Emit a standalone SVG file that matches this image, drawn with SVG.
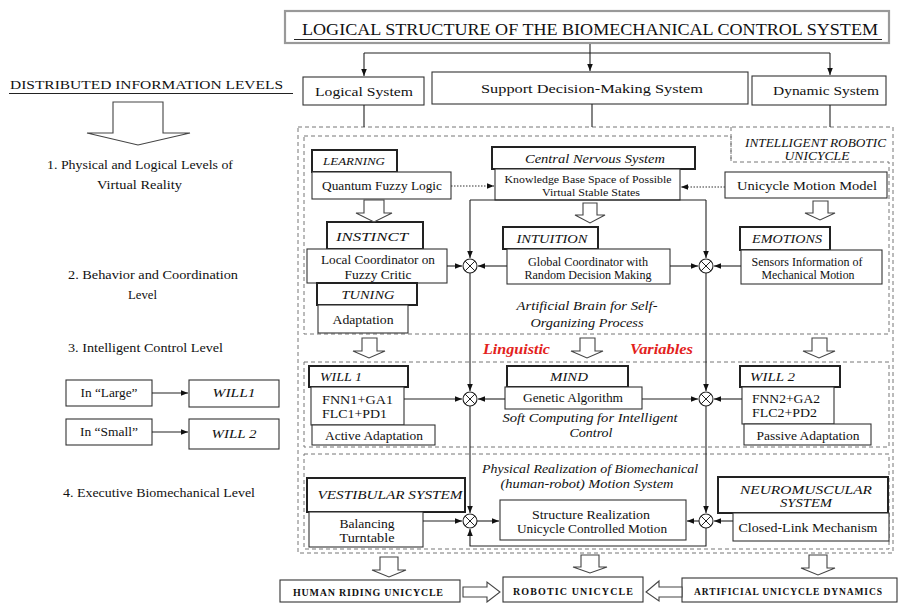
<svg xmlns="http://www.w3.org/2000/svg" width="898" height="603" viewBox="0 0 898 603">
  <defs>
    <style>
      text { font-family: "Liberation Serif", "Times New Roman", serif; fill: #111; }
      .c { text-anchor: middle; }
      .it { font-style: italic; }
      .red { fill: #e3221c; font-style: italic; font-weight: bold; }
      .caps { font-weight: bold; }
      .box { fill: #fff; stroke: #333; stroke-width: 1.1; }
      .lab { fill: #fff; stroke: #222; stroke-width: 2; }
      .dash { fill: none; stroke: #777; stroke-width: 1; stroke-dasharray: 4 3; }
      .ln { fill: none; stroke: #222; stroke-width: 1.1; }
      .dot { fill: none; stroke: #333; stroke-width: 1.1; stroke-dasharray: 1.5 1.5; }
      .blk { fill: #fff; stroke: #444; stroke-width: 1.1; }
      .sum circle { fill: #fff; stroke: #222; stroke-width: 1.1; }
      .sum path { stroke: #222; stroke-width: 1; }
    </style>
    <marker id="ah" viewBox="0 0 10 10" refX="10" refY="5" markerWidth="7" markerHeight="7" orient="auto" markerUnits="userSpaceOnUse">
      <path d="M0,1 L10,5 L0,9 z" fill="#111"/>
    </marker>
    <g id="sumj" class="sum">
      <circle r="7"/>
      <path d="M-4.9,-4.9 L4.9,4.9 M-4.9,4.9 L4.9,-4.9"/>
    </g>
  </defs>

  <rect width="898" height="603" fill="#fff"/>

  <!-- dashed frames of the robotic unicycle and its three layers -->
  <g id="frames">
    <rect class="dash" x="298" y="127" width="595" height="426"/>
    <path class="dash" d="M304,136 H731 V162 H889 V334 H304 Z"/>
    <path class="dash" d="M731,127 V162"/>
    <rect class="dash" x="304" y="362" width="585" height="85"/>
    <rect class="dash" x="304" y="454" width="585" height="95"/>
  </g>

  <!-- title -->
  <g id="title">
    <rect x="285" y="11" width="604" height="32" fill="#fff" stroke="#999" stroke-width="2.2"/>
    <text class="c" x="590" y="35" font-size="17" textLength="576" lengthAdjust="spacingAndGlyphs">LOGICAL STRUCTURE OF THE BIOMECHANICAL CONTROL SYSTEM</text>
    <path class="ln" d="M294,39.5 H882"/>
  </g>

  <g id="logical-system">
    <rect class="box" x="303" y="77" width="121" height="28"/>
    <text class="c" x="364" y="96" font-size="13" textLength="98" lengthAdjust="spacingAndGlyphs">Logical System</text>
  </g>
  <g id="support-system">
    <rect class="box" x="432" y="72" width="316" height="32"/>
    <text class="c" x="592" y="93" font-size="13" textLength="222" lengthAdjust="spacingAndGlyphs">Support Decision-Making System</text>
  </g>
  <g id="dynamic-system">
    <rect class="box" x="752" y="76" width="134" height="29"/>
    <text class="c" x="826" y="95" font-size="13" textLength="106" lengthAdjust="spacingAndGlyphs">Dynamic System</text>
  </g>

  <!-- distributed information levels -->
  <g id="levels">
    <text x="10" y="89" font-size="13" textLength="273" lengthAdjust="spacingAndGlyphs">DISTRIBUTED INFORMATION LEVELS</text>
    <path class="ln" d="M9,93.5 H293"/>
    <path class="blk" d="M113,102 H163 V133 H190 L138,145 L87,133 H113 Z"/>
    <text x="47" y="169" font-size="13" textLength="186" lengthAdjust="spacingAndGlyphs">1. Physical and Logical Levels of</text>
    <text x="97" y="189" font-size="13" textLength="85" lengthAdjust="spacingAndGlyphs">Virtual Reality</text>
    <text x="68" y="279" font-size="13" textLength="170" lengthAdjust="spacingAndGlyphs">2. Behavior and Coordination</text>
    <text x="128" y="299" font-size="13" textLength="29" lengthAdjust="spacingAndGlyphs">Level</text>
    <text x="68" y="352" font-size="13" textLength="155" lengthAdjust="spacingAndGlyphs">3. Intelligent Control Level</text>
    <text x="63" y="497" font-size="13" textLength="192" lengthAdjust="spacingAndGlyphs">4. Executive Biomechanical Level</text>
  </g>
  <g id="in-large">
    <rect class="box" x="66" y="380" width="86" height="26"/>
    <text class="c" x="109" y="397" font-size="12" textLength="57" lengthAdjust="spacingAndGlyphs">In “Large”</text>
  </g>
  <g id="will1-left">
    <rect class="box" x="189" y="380" width="90" height="27"/>
    <text class="c it" x="234" y="397" font-size="12" textLength="43" lengthAdjust="spacingAndGlyphs">WILL1</text>
  </g>
  <g id="in-small">
    <rect class="box" x="66" y="419" width="86" height="26"/>
    <text class="c" x="109" y="436" font-size="12" textLength="58" lengthAdjust="spacingAndGlyphs">In “Small”</text>
  </g>
  <g id="will2-left">
    <rect class="box" x="189" y="419" width="90" height="30"/>
    <text class="c it" x="234" y="438" font-size="12" textLength="45" lengthAdjust="spacingAndGlyphs">WILL 2</text>
  </g>

  <text x="745" y="147" class="it" font-size="12" textLength="141" lengthAdjust="spacingAndGlyphs">INTELLIGENT ROBOTIC</text>
  <text x="817" y="160" class="c it" font-size="12" textLength="65" lengthAdjust="spacingAndGlyphs">UNICYCLE</text>

  <!-- layer 1: artificial brain -->
  <g id="learning">
    <rect class="lab" x="312" y="150" width="85" height="22"/>
    <text class="c it" x="354" y="165" font-size="11" textLength="62" lengthAdjust="spacingAndGlyphs">LEARNING</text>
  </g>
  <g id="quantum-fuzzy-logic">
    <rect class="box" x="312" y="172" width="139" height="27"/>
    <text class="c" x="382" y="190" font-size="13" textLength="120" lengthAdjust="spacingAndGlyphs">Quantum Fuzzy Logic</text>
  </g>
  <g id="instinct">
    <rect class="lab" x="327" y="222" width="96" height="27"/>
    <text class="c it" x="372" y="241" font-size="13" textLength="72" lengthAdjust="spacingAndGlyphs">INSTINCT</text>
  </g>
  <g id="local-coordinator">
    <rect class="box" x="307" y="249" width="140" height="34"/>
    <text class="c" x="378" y="264" font-size="12.5" textLength="114" lengthAdjust="spacingAndGlyphs">Local Coordinator on</text>
    <text class="c" x="378" y="279" font-size="12.5" textLength="67" lengthAdjust="spacingAndGlyphs">Fuzzy Critic</text>
  </g>
  <g id="tuning">
    <rect class="lab" x="317" y="283" width="100" height="22"/>
    <text class="c it" x="368" y="299" font-size="12.5" textLength="53" lengthAdjust="spacingAndGlyphs">TUNING</text>
  </g>
  <g id="adaptation">
    <rect class="box" x="318" y="305" width="90" height="28"/>
    <text class="c" x="363" y="324" font-size="12.5" textLength="61" lengthAdjust="spacingAndGlyphs">Adaptation</text>
  </g>
  <g id="central-nervous-system">
    <rect class="lab" x="492" y="147" width="203" height="22"/>
    <text class="c it" x="595" y="163" font-size="12.5" textLength="140" lengthAdjust="spacingAndGlyphs">Central Nervous System</text>
  </g>
  <g id="knowledge-base">
    <rect class="box" x="495" y="169" width="185" height="31"/>
    <text class="c" x="588" y="183" font-size="11" textLength="167" lengthAdjust="spacingAndGlyphs">Knowledge Base Space of Possible</text>
    <text class="c" x="591" y="196" font-size="11" textLength="98" lengthAdjust="spacingAndGlyphs">Virtual Stable States</text>
  </g>
  <g id="intuition">
    <rect class="lab" x="503" y="227" width="95" height="22"/>
    <text class="c it" x="552" y="243" font-size="13" textLength="71" lengthAdjust="spacingAndGlyphs">INTUITION</text>
  </g>
  <g id="global-coordinator">
    <rect class="box" x="507" y="249" width="163" height="35"/>
    <text class="c" x="588" y="266" font-size="11.5" textLength="120" lengthAdjust="spacingAndGlyphs">Global Coordinator with</text>
    <text class="c" x="588" y="279" font-size="11.5" textLength="127" lengthAdjust="spacingAndGlyphs">Random Decision Making</text>
  </g>
  <text class="c it" x="587" y="310" font-size="13" textLength="141" lengthAdjust="spacingAndGlyphs">Artificial Brain for Self-</text>
  <text class="c it" x="587" y="327" font-size="13" textLength="113" lengthAdjust="spacingAndGlyphs">Organizing Process</text>
  <g id="unicycle-motion-model">
    <rect class="box" x="725" y="172" width="162" height="26"/>
    <text class="c" x="807" y="190" font-size="13.5" textLength="140" lengthAdjust="spacingAndGlyphs">Unicycle Motion Model</text>
  </g>
  <g id="emotions">
    <rect class="lab" x="740" y="227" width="90" height="23"/>
    <text class="c it" x="787" y="243" font-size="13" textLength="70" lengthAdjust="spacingAndGlyphs">EMOTIONS</text>
  </g>
  <g id="sensors-information">
    <rect class="box" x="741" y="250" width="141" height="34"/>
    <text class="c" x="807" y="266" font-size="11.5" textLength="111" lengthAdjust="spacingAndGlyphs">Sensors Information of</text>
    <text class="c" x="808" y="279" font-size="11.5" textLength="93" lengthAdjust="spacingAndGlyphs">Mechanical Motion</text>
  </g>

  <text class="red" x="483" y="354" font-size="15" textLength="67" lengthAdjust="spacingAndGlyphs">Linguistic</text>
  <text class="red" x="630" y="354" font-size="15" textLength="63" lengthAdjust="spacingAndGlyphs">Variables</text>

  <!-- layer 2: soft computing -->
  <g id="will1">
    <rect class="lab" x="309" y="366" width="99" height="21"/>
    <text class="it" x="320" y="381" font-size="12" textLength="42" lengthAdjust="spacingAndGlyphs">WILL 1</text>
  </g>
  <g id="fnn1">
    <rect class="box" x="311" y="387" width="93" height="38"/>
    <text x="322" y="404" font-size="12.5" textLength="71" lengthAdjust="spacingAndGlyphs">FNN1+GA1</text>
    <text x="322" y="418" font-size="12.5" textLength="65" lengthAdjust="spacingAndGlyphs">FLC1+PD1</text>
  </g>
  <g id="active-adaptation">
    <rect class="box" x="312" y="425" width="123" height="20"/>
    <text class="c" x="374" y="440" font-size="11.5" textLength="98" lengthAdjust="spacingAndGlyphs">Active Adaptation</text>
  </g>
  <g id="mind">
    <rect class="lab" x="507" y="366" width="121" height="21"/>
    <text class="c it" x="569" y="381" font-size="12" textLength="38" lengthAdjust="spacingAndGlyphs">MIND</text>
  </g>
  <g id="genetic-algorithm">
    <rect class="box" x="505" y="387" width="137" height="22"/>
    <text class="c" x="573" y="402" font-size="11.5" textLength="100" lengthAdjust="spacingAndGlyphs">Genetic Algorithm</text>
  </g>
  <text class="c it" x="590" y="422" font-size="12.5" textLength="175" lengthAdjust="spacingAndGlyphs">Soft Computing for Intelligent</text>
  <text class="c it" x="591" y="437" font-size="12.5" textLength="43" lengthAdjust="spacingAndGlyphs">Control</text>
  <g id="will2">
    <rect class="lab" x="740" y="366" width="100" height="21"/>
    <text class="it" x="750" y="381" font-size="12" textLength="45" lengthAdjust="spacingAndGlyphs">WILL 2</text>
  </g>
  <g id="fnn2">
    <rect class="box" x="742" y="387" width="92" height="37"/>
    <text x="752" y="403" font-size="12.5" textLength="68" lengthAdjust="spacingAndGlyphs">FNN2+GA2</text>
    <text x="752" y="417" font-size="12.5" textLength="65" lengthAdjust="spacingAndGlyphs">FLC2+PD2</text>
  </g>
  <g id="passive-adaptation">
    <rect class="box" x="744" y="424" width="127" height="21"/>
    <text class="c" x="808" y="440" font-size="11.5" textLength="103" lengthAdjust="spacingAndGlyphs">Passive Adaptation</text>
  </g>

  <!-- layer 3: physical realization -->
  <text class="c it" x="590" y="473" font-size="12.5" textLength="216" lengthAdjust="spacingAndGlyphs">Physical Realization of Biomechanical</text>
  <text class="c it" x="587" y="488" font-size="12.5" textLength="173" lengthAdjust="spacingAndGlyphs">(human-robot) Motion System</text>
  <g id="vestibular-system">
    <rect class="lab" x="307" y="478" width="158" height="34"/>
    <text class="c it" x="390" y="499" font-size="12.5" textLength="145" lengthAdjust="spacingAndGlyphs">VESTIBULAR SYSTEM</text>
  </g>
  <g id="balancing-turntable">
    <rect class="box" x="309" y="512" width="114" height="35"/>
    <text class="c" x="367" y="528" font-size="12" textLength="55" lengthAdjust="spacingAndGlyphs">Balancing</text>
    <text class="c" x="367" y="542" font-size="12" textLength="55" lengthAdjust="spacingAndGlyphs">Turntable</text>
  </g>
  <g id="structure-realization">
    <rect class="box" x="500" y="500" width="186" height="40"/>
    <text class="c" x="591" y="519" font-size="12" textLength="118" lengthAdjust="spacingAndGlyphs">Structure Realization</text>
    <text class="c" x="592" y="533" font-size="12" textLength="150" lengthAdjust="spacingAndGlyphs">Unicycle Controlled Motion</text>
  </g>
  <g id="neuromuscular-system">
    <rect class="lab" x="718" y="477" width="170" height="36"/>
    <text class="c it" x="806" y="494" font-size="12.5" textLength="132" lengthAdjust="spacingAndGlyphs">NEUROMUSCULAR</text>
    <text class="c it" x="806" y="507" font-size="12.5" textLength="52" lengthAdjust="spacingAndGlyphs">SYSTEM</text>
  </g>
  <g id="closed-link-mechanism">
    <rect class="box" x="733" y="513" width="156" height="28"/>
    <text class="c" x="808" y="532" font-size="12" textLength="139" lengthAdjust="spacingAndGlyphs">Closed-Link Mechanism</text>
  </g>

  <!-- outputs -->
  <g id="human-riding-unicycle">
    <rect class="box" x="280" y="580" width="180" height="22"/>
    <text class="c caps" x="368" y="596" font-size="10" textLength="150" lengthAdjust="spacing">HUMAN RIDING UNICYCLE</text>
  </g>
  <g id="robotic-unicycle">
    <rect class="box" x="503" y="577" width="140" height="25"/>
    <text class="c caps" x="573" y="595" font-size="10" textLength="120" lengthAdjust="spacing">ROBOTIC UNICYCLE</text>
  </g>
  <g id="artificial-unicycle-dynamics">
    <rect class="box" x="682" y="578" width="215" height="24"/>
    <text class="c caps" x="788" y="595" font-size="9.5" textLength="188" lengthAdjust="spacing">ARTIFICIAL UNICYCLE DYNAMICS</text>
  </g>

  <!-- connectors -->
  <g id="connectors">
    <path class="ln" d="M590,44 V71" marker-end="url(#ah)"/>
    <path class="ln" d="M364,53 H830"/>
    <path class="ln" d="M364,53 V76" marker-end="url(#ah)"/>
    <path class="ln" d="M830,53 V75" marker-end="url(#ah)"/>
    <path class="ln" d="M364,105 V127 M592,104 V127 M830,105 V127"/>

    <path class="ln" d="M152,393 H188" marker-end="url(#ah)"/>
    <path class="ln" d="M152,432 H188" marker-end="url(#ah)"/>

    <path class="dot" d="M451,186 H494" marker-end="url(#ah)"/>
    <path class="dot" d="M725,187 H681" marker-end="url(#ah)"/>

    <!-- coordination buses -->
    <path class="ln" d="M470,200 H706"/>
    <path class="ln" d="M470,200 V258" marker-end="url(#ah)"/>
    <path class="ln" d="M470,273 V391" marker-end="url(#ah)"/>
    <path class="ln" d="M470,406 V513" marker-end="url(#ah)"/>
    <path class="ln" d="M706,200 V258" marker-end="url(#ah)"/>
    <path class="ln" d="M706,273 V391" marker-end="url(#ah)"/>
    <path class="ln" d="M706,406 V513" marker-end="url(#ah)"/>
    <path class="ln" d="M706,528 V546 H470 V529" marker-end="url(#ah)"/>

    <path class="ln" d="M447,266 H462" marker-end="url(#ah)"/>
    <path class="ln" d="M507,266 H478" marker-end="url(#ah)"/>
    <path class="ln" d="M670,266 H698" marker-end="url(#ah)"/>
    <path class="ln" d="M741,266 H714" marker-end="url(#ah)"/>

    <path class="ln" d="M404,399 H462" marker-end="url(#ah)"/>
    <path class="ln" d="M505,399 H478" marker-end="url(#ah)"/>
    <path class="ln" d="M642,399 H698" marker-end="url(#ah)"/>
    <path class="ln" d="M742,399 H714" marker-end="url(#ah)"/>

    <path class="ln" d="M423,521 H462" marker-end="url(#ah)"/>
    <path class="ln" d="M477,521 H499" marker-end="url(#ah)"/>
    <path class="ln" d="M699,521 H687" marker-end="url(#ah)"/>
    <path class="ln" d="M733,521 H714" marker-end="url(#ah)"/>

    <use href="#sumj" x="470" y="266"/>
    <use href="#sumj" x="706" y="266"/>
    <use href="#sumj" x="470" y="399"/>
    <use href="#sumj" x="706" y="399"/>
    <use href="#sumj" x="470" y="521"/>
    <use href="#sumj" x="706" y="521"/>

    <!-- hollow flow arrows -->
    <path class="blk" d="M364,200 H384 V213 H392 L374,222 L356,213 H364 Z"/>
    <path class="blk" d="M583,203 H597 V215 H605 L590,223 L575,215 H583 Z"/>
    <path class="blk" d="M813,201 H828 V213 H835 L820,220 L805,213 H813 Z"/>

    <path class="blk" d="M362,338 H377 V351 H385 L369,358 L353,351 H362 Z"/>
    <path class="blk" d="M580,338 H595 V351 H603 L587,358 L571,351 H580 Z"/>
    <path class="blk" d="M812,338 H827 V351 H835 L819,358 L803,351 H812 Z"/>

    <path class="blk" d="M380,557 H398 V570 H406 L389,577 L372,570 H380 Z"/>
    <path class="blk" d="M581,555 H599 V567 H607 L590,573 L573,567 H581 Z"/>
    <path class="blk" d="M809,555 H827 V568 H835 L818,575 L801,568 H809 Z"/>

    <path class="blk" d="M463,587 H487 V582 L500,592 L487,602 V597 H463 Z"/>
    <path class="blk" d="M682,587 H659 V581 L646,592 L659,601 V597 H682 Z"/>
  </g>
</svg>
